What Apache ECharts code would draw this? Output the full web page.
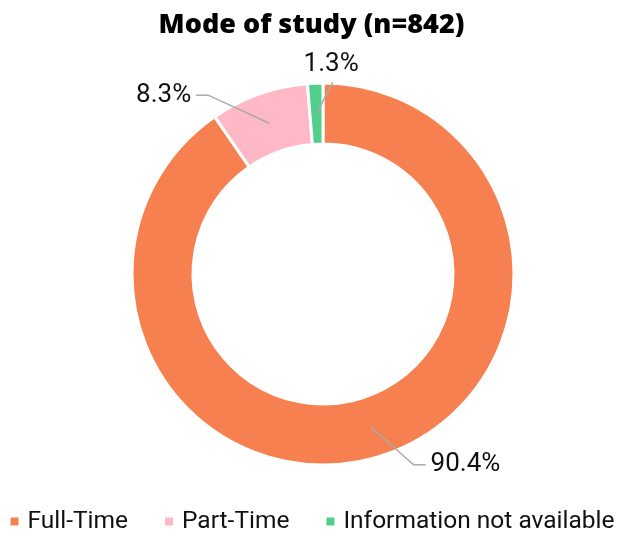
<!DOCTYPE html>
<html>
<head>
<meta charset="utf-8">
<script src="https://cdn.jsdelivr.net/npm/echarts@6/dist/echarts.min.js"></script>
<style>html,body{margin:0;padding:0;background:#fff}#c{width:623px;height:536px}</style>
</head>
<body>
<div id="c"></div>
<script>
var categories = ["Full-Time", "Part-Time", "Information not available"];
var values = [90.4, 8.3, 1.3];
var colors = ["#F78050", "#FFB8C5", "#50D08C"];
// label nudges (style only, in px): [labelDx, labelDy, elbowDx, elbowDy, endDx, endDy]
var labelShift = [
  [30, -4, 30, -4, 30, -4],
  [-16, -3, -16, -3, -16, -3],
  [61, -6, 18, 12, 30, 12]
];

var data = categories.map(function (c, i) {
  return { name: c, value: values[i], itemStyle: { color: colors[i] } };
});
var labelData = categories.map(function (c, i) {
  return { name: c, value: values[i] };
});

var chart = echarts.init(document.getElementById('c'), null, { renderer: 'canvas' });
chart.setOption({
  animation: false,
  title: {
    text: 'Mode of study (n=842)',
    left: 'center',
    top: 7,
    textStyle: { fontFamily: 'Open Sans', fontWeight: 800, fontSize: 27, color: '#000' }
  },
  legend: {
    bottom: 2,
    left: 'center',
    padding: 0,
    icon: 'rect',
    itemWidth: 10,
    itemHeight: 10,
    itemGap: 35,
    data: categories,
    textStyle: { fontFamily: 'Roboto', fontSize: 24.5, color: '#111', padding: [0, 0, 0, 3] }
  },
  series: [
    {
      type: 'pie',
      z: 2,
      center: [323, 274],
      radius: [130, 191],
      startAngle: 90,
      clockwise: true,
      label: { show: false },
      labelLine: { show: false },
      itemStyle: { borderColor: '#fff', borderWidth: 3 },
      emphasis: { disabled: true },
      data: data
    },
    {
      type: 'pie',
      z: 5,
      center: [323, 274],
      radius: [0, 160],
      startAngle: 90,
      clockwise: true,
      silent: true,
      legendHoverLink: false,
      itemStyle: { color: 'rgba(0,0,0,0)' },
      label: {
        show: true,
        position: 'outside',
        formatter: function (p) { return p.value.toFixed(1) + '%'; },
        fontFamily: 'Roboto',
        fontSize: 26,
        color: '#111'
      },
      labelLine: { show: true, length: 44, length2: 12, lineStyle: { color: '#aaa', width: 1.5 } },
      labelLayout: function (p) {
        var s = labelShift[p.dataIndex];
        var out = { dx: s[0], dy: s[1] };
        var pts = p.labelLinePoints;
        if (pts && pts.length === 3) {
          out.labelLinePoints = [
            [pts[0][0], pts[0][1]],
            [pts[1][0] + s[2], pts[1][1] + s[3]],
            [pts[2][0] + s[4], pts[2][1] + s[5]]
          ];
        }
        return out;
      },
      emphasis: { disabled: true },
      data: labelData
    }
  ]
});
</script>
</body>
</html>
